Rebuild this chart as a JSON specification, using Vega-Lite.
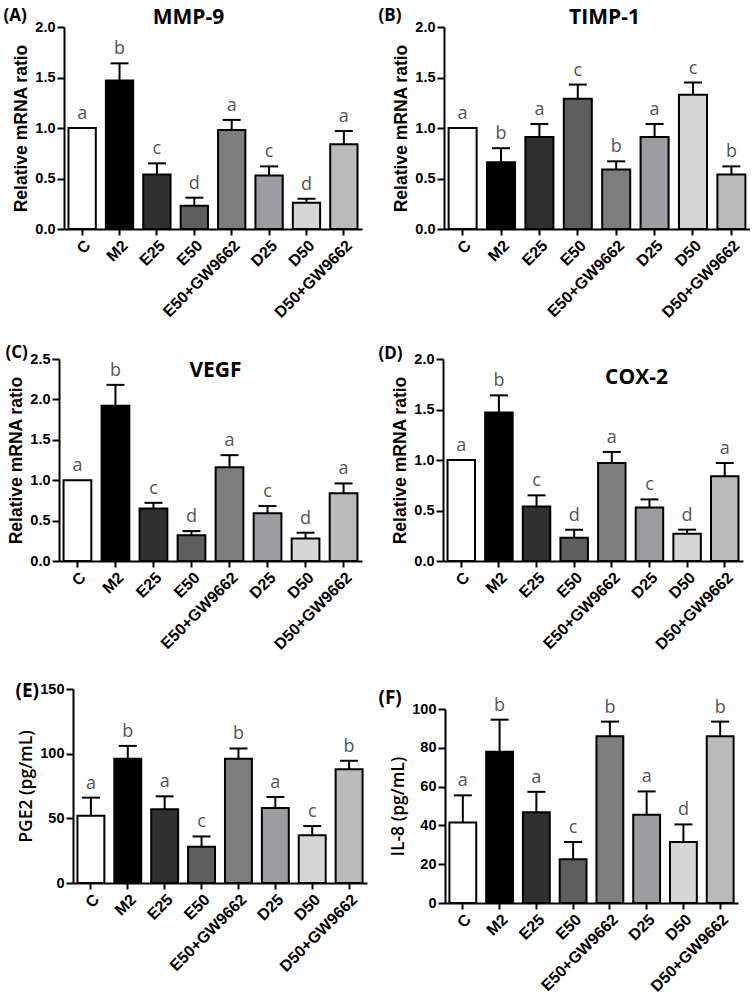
{
"$schema":"https://vega.github.io/schema/vega-lite/v6.json",
"background":"white",
"padding":{"left":3,"top":6,"right":0,"bottom":0},
"autosize":{"type":"pad"},
"bounds":"flush",
"columns":2,
"spacing":{"row":128,"column":76},
"config":{"view":{"stroke":null},"axis":{"grid":false}},
"datasets":{"d":[
{"panel":"A","group":"C","value":1.0,"hi":1.0,"letter":"a"},
{"panel":"A","group":"M2","value":1.47,"hi":1.64,"letter":"b"},
{"panel":"A","group":"E25","value":0.54,"hi":0.65,"letter":"c"},
{"panel":"A","group":"E50","value":0.23,"hi":0.31,"letter":"d"},
{"panel":"A","group":"E50+GW9662","value":0.98,"hi":1.08,"letter":"a"},
{"panel":"A","group":"D25","value":0.53,"hi":0.62,"letter":"c"},
{"panel":"A","group":"D50","value":0.26,"hi":0.30,"letter":"d"},
{"panel":"A","group":"D50+GW9662","value":0.84,"hi":0.97,"letter":"a"},
{"panel":"B","group":"C","value":1.0,"hi":1.0,"letter":"a"},
{"panel":"B","group":"M2","value":0.66,"hi":0.80,"letter":"b"},
{"panel":"B","group":"E25","value":0.91,"hi":1.04,"letter":"a"},
{"panel":"B","group":"E50","value":1.29,"hi":1.43,"letter":"c"},
{"panel":"B","group":"E50+GW9662","value":0.59,"hi":0.67,"letter":"b"},
{"panel":"B","group":"D25","value":0.91,"hi":1.04,"letter":"a"},
{"panel":"B","group":"D50","value":1.33,"hi":1.45,"letter":"c"},
{"panel":"B","group":"D50+GW9662","value":0.54,"hi":0.62,"letter":"b"},
{"panel":"C","group":"C","value":1.0,"hi":1.0,"letter":"a"},
{"panel":"C","group":"M2","value":1.92,"hi":2.18,"letter":"b"},
{"panel":"C","group":"E25","value":0.65,"hi":0.72,"letter":"c"},
{"panel":"C","group":"E50","value":0.32,"hi":0.37,"letter":"d"},
{"panel":"C","group":"E50+GW9662","value":1.16,"hi":1.31,"letter":"a"},
{"panel":"C","group":"D25","value":0.59,"hi":0.68,"letter":"c"},
{"panel":"C","group":"D50","value":0.28,"hi":0.35,"letter":"d"},
{"panel":"C","group":"D50+GW9662","value":0.84,"hi":0.96,"letter":"a"},
{"panel":"D","group":"C","value":1.0,"hi":1.0,"letter":"a"},
{"panel":"D","group":"M2","value":1.47,"hi":1.64,"letter":"b"},
{"panel":"D","group":"E25","value":0.54,"hi":0.65,"letter":"c"},
{"panel":"D","group":"E50","value":0.23,"hi":0.31,"letter":"d"},
{"panel":"D","group":"E50+GW9662","value":0.97,"hi":1.08,"letter":"a"},
{"panel":"D","group":"D25","value":0.53,"hi":0.61,"letter":"c"},
{"panel":"D","group":"D50","value":0.27,"hi":0.31,"letter":"d"},
{"panel":"D","group":"D50+GW9662","value":0.84,"hi":0.97,"letter":"a"},
{"panel":"E","group":"C","value":52,"hi":66,"letter":"a"},
{"panel":"E","group":"M2","value":96,"hi":106,"letter":"b"},
{"panel":"E","group":"E25","value":57,"hi":67,"letter":"a"},
{"panel":"E","group":"E50","value":28,"hi":36,"letter":"c"},
{"panel":"E","group":"E50+GW9662","value":96,"hi":104,"letter":"b"},
{"panel":"E","group":"D25","value":58,"hi":66.5,"letter":"a"},
{"panel":"E","group":"D50","value":37,"hi":44,"letter":"c"},
{"panel":"E","group":"D50+GW9662","value":88,"hi":94.5,"letter":"b"},
{"panel":"F","group":"C","value":41.5,"hi":55.5,"letter":"a"},
{"panel":"F","group":"M2","value":78,"hi":94.5,"letter":"b"},
{"panel":"F","group":"E25","value":46.8,"hi":57.3,"letter":"a"},
{"panel":"F","group":"E50","value":22.6,"hi":31.5,"letter":"c"},
{"panel":"F","group":"E50+GW9662","value":86,"hi":93.5,"letter":"b"},
{"panel":"F","group":"D25","value":45.5,"hi":57.5,"letter":"a"},
{"panel":"F","group":"D50","value":31.5,"hi":40.5,"letter":"d"},
{"panel":"F","group":"D50+GW9662","value":86,"hi":93.5,"letter":"b"}
]},
"data":{"name":"d"},
"concat":[
{"width":308,"height":202,"transform":[{"filter":"datum.panel === 'A'"}],
 "resolve":{"axis":{"x":"independent","y":"independent"}},
 "layer":[
  {"mark":{"type":"bar","stroke":"#000","strokeWidth":2},
   "encoding":{
    "x":{"field":"group","type":"nominal","sort":["C","M2","E25","E50","E50+GW9662","D25","D50","D50+GW9662"],"scale":{"range":[5,303],"paddingInner":0.27,"paddingOuter":0.12},
      "axis":{"orient":"bottom","title":null,"labelAngle":-45,"labelFont":"Liberation Sans","labelFontWeight":"bold","labelFontSize":16,"labelColor":"#000","domainColor":"#000","domainWidth":2,"tickColor":"#000","tickWidth":2,"tickSize":6,"labelPadding":2}},
    "y":{"field":"value","type":"quantitative","scale":{"domain":[0,2],"nice":false},
      "axis":{"orient":"left","offset":-5,"values":[0,0.5,1,1.5,2],"format":".1f","title":"Relative mRNA ratio","titleFont":"Liberation Sans","titleFontWeight":"bold","titleFontSize":17.5,"titleColor":"#000","labelFont":"Liberation Sans","labelFontWeight":"bold","labelFontSize":14.5,"labelColor":"#000","domainColor":"#000","domainWidth":2,"tickColor":"#000","tickWidth":2,"tickSize":7}},
    "color":{"field":"group","type":"nominal","scale":{"domain":["C","M2","E25","E50","E50+GW9662","D25","D50","D50+GW9662"],"range":["#ffffff","#000000","#303030","#5e5e5e","#7d7d7d","#9c9ca1","#d6d6d6","#bababa"]},"legend":null}}},
  {"transform":[{"filter":"datum.hi > datum.value"}],"mark":{"type":"rule","strokeWidth":2,"color":"#000"},
   "encoding":{
    "x":{"field":"group","type":"nominal","sort":["C","M2","E25","E50","E50+GW9662","D25","D50","D50+GW9662"],"axis":null},
    "y":{"field":"value","type":"quantitative","axis":{"orient":"right","domain":false,"ticks":false,"labels":false,"title":"MMP-9","titleAngle":0,"titleX":-179,"titleY":-10,"titleAlign":"center","titleBaseline":"middle","titleFont":"Open Sans","titleFontWeight":"bold","titleFontSize":21,"titleColor":"#000"}},
    "y2":{"field":"hi"}}},
  {"transform":[{"filter":"datum.hi > datum.value"}],"mark":{"type":"tick","thickness":2,"size":18,"color":"#000","opacity":1},
   "encoding":{
    "x":{"field":"group","type":"nominal","sort":["C","M2","E25","E50","E50+GW9662","D25","D50","D50+GW9662"],"axis":{"orient":"top","domain":false,"ticks":false,"labels":false,"title":"(A)","titleX":-56,"titleY":-12,"titleAlign":"left","titleBaseline":"middle","titleAngle":0,"titleFont":"Open Sans","titleFontWeight":"bold","titleFontSize":17,"titleColor":"#000"}},
    "y":{"field":"hi","type":"quantitative","axis":null}}},
  {"mark":{"type":"text","baseline":"alphabetic","dy":-9,"font":"Open Sans","fontSize":18,"color":"#555555"},
   "encoding":{
    "x":{"field":"group","type":"nominal","sort":["C","M2","E25","E50","E50+GW9662","D25","D50","D50+GW9662"],"axis":null},
    "y":{"field":"hi","type":"quantitative","axis":null},
    "text":{"field":"letter"}}}
 ]},
{"width":307,"height":202,"transform":[{"filter":"datum.panel === 'B'"}],
 "resolve":{"axis":{"x":"independent","y":"independent"}},
 "layer":[
  {"mark":{"type":"bar","stroke":"#000","strokeWidth":2},
   "encoding":{
    "x":{"field":"group","type":"nominal","sort":["C","M2","E25","E50","E50+GW9662","D25","D50","D50+GW9662"],"scale":{"range":[1,307],"paddingInner":0.27,"paddingOuter":0.12},
      "axis":{"orient":"bottom","title":null,"labelAngle":-45,"labelFont":"Liberation Sans","labelFontWeight":"bold","labelFontSize":16,"labelColor":"#000","domainColor":"#000","domainWidth":2,"tickColor":"#000","tickWidth":2,"tickSize":6,"labelPadding":2}},
    "y":{"field":"value","type":"quantitative","scale":{"domain":[0,2],"nice":false},
      "axis":{"orient":"left","offset":-1,"values":[0,0.5,1,1.5,2],"format":".1f","title":"Relative mRNA ratio","titleFont":"Liberation Sans","titleFontWeight":"bold","titleFontSize":17.5,"titleColor":"#000","labelFont":"Liberation Sans","labelFontWeight":"bold","labelFontSize":14.5,"labelColor":"#000","domainColor":"#000","domainWidth":2,"tickColor":"#000","tickWidth":2,"tickSize":7}},
    "color":{"field":"group","type":"nominal","scale":{"domain":["C","M2","E25","E50","E50+GW9662","D25","D50","D50+GW9662"],"range":["#ffffff","#000000","#303030","#5e5e5e","#7d7d7d","#9c9ca1","#d6d6d6","#bababa"]},"legend":null}}},
  {"transform":[{"filter":"datum.hi > datum.value"}],"mark":{"type":"rule","strokeWidth":2,"color":"#000"},
   "encoding":{
    "x":{"field":"group","type":"nominal","sort":["C","M2","E25","E50","E50+GW9662","D25","D50","D50+GW9662"],"axis":null},
    "y":{"field":"value","type":"quantitative","axis":{"orient":"right","domain":false,"ticks":false,"labels":false,"title":"TIMP-1","titleAngle":0,"titleX":-146,"titleY":-10,"titleAlign":"center","titleBaseline":"middle","titleFont":"Open Sans","titleFontWeight":"bold","titleFontSize":21,"titleColor":"#000"}},
    "y2":{"field":"hi"}}},
  {"transform":[{"filter":"datum.hi > datum.value"}],"mark":{"type":"tick","thickness":2,"size":18,"color":"#000","opacity":1},
   "encoding":{
    "x":{"field":"group","type":"nominal","sort":["C","M2","E25","E50","E50+GW9662","D25","D50","D50+GW9662"],"axis":{"orient":"top","domain":false,"ticks":false,"labels":false,"title":"(B)","titleX":-65,"titleY":-12,"titleAlign":"left","titleBaseline":"middle","titleAngle":0,"titleFont":"Open Sans","titleFontWeight":"bold","titleFontSize":17,"titleColor":"#000"}},
    "y":{"field":"hi","type":"quantitative","axis":null}}},
  {"mark":{"type":"text","baseline":"alphabetic","dy":-9,"font":"Open Sans","fontSize":18,"color":"#555555"},
   "encoding":{
    "x":{"field":"group","type":"nominal","sort":["C","M2","E25","E50","E50+GW9662","D25","D50","D50+GW9662"],"axis":null},
    "y":{"field":"hi","type":"quantitative","axis":null},
    "text":{"field":"letter"}}}
 ]},
{"width":308,"height":204,"transform":[{"filter":"datum.panel === 'C'"}],
 "resolve":{"axis":{"x":"independent","y":"independent"}},
 "layer":[
  {"mark":{"type":"bar","stroke":"#000","strokeWidth":2},
   "encoding":{
    "x":{"field":"group","type":"nominal","sort":["C","M2","E25","E50","E50+GW9662","D25","D50","D50+GW9662"],"scale":{"range":[0,303],"paddingInner":0.27,"paddingOuter":0.12},
      "axis":{"orient":"bottom","title":null,"labelAngle":-45,"labelFont":"Liberation Sans","labelFontWeight":"bold","labelFontSize":16,"labelColor":"#000","domainColor":"#000","domainWidth":2,"tickColor":"#000","tickWidth":2,"tickSize":6,"labelPadding":2}},
    "y":{"field":"value","type":"quantitative","scale":{"domain":[0,2.5],"nice":false,"range":[204,2]},
      "axis":{"orient":"left","values":[0,0.5,1,1.5,2,2.5],"format":".1f","title":"Relative mRNA ratio","titleFont":"Liberation Sans","titleFontWeight":"bold","titleFontSize":17.5,"titleColor":"#000","labelFont":"Liberation Sans","labelFontWeight":"bold","labelFontSize":14.5,"labelColor":"#000","domainColor":"#000","domainWidth":2,"tickColor":"#000","tickWidth":2,"tickSize":7}},
    "color":{"field":"group","type":"nominal","scale":{"domain":["C","M2","E25","E50","E50+GW9662","D25","D50","D50+GW9662"],"range":["#ffffff","#000000","#303030","#5e5e5e","#7d7d7d","#9c9ca1","#d6d6d6","#bababa"]},"legend":null}}},
  {"transform":[{"filter":"datum.hi > datum.value"}],"mark":{"type":"rule","strokeWidth":2,"color":"#000"},
   "encoding":{
    "x":{"field":"group","type":"nominal","sort":["C","M2","E25","E50","E50+GW9662","D25","D50","D50+GW9662"],"axis":null},
    "y":{"field":"value","type":"quantitative","axis":{"orient":"right","domain":false,"ticks":false,"labels":false,"title":"VEGF","titleAngle":0,"titleX":-152,"titleY":13,"titleAlign":"center","titleBaseline":"middle","titleFont":"Open Sans","titleFontWeight":"bold","titleFontSize":21,"titleColor":"#000"}},
    "y2":{"field":"hi"}}},
  {"transform":[{"filter":"datum.hi > datum.value"}],"mark":{"type":"tick","thickness":2,"size":18,"color":"#000","opacity":1},
   "encoding":{
    "x":{"field":"group","type":"nominal","sort":["C","M2","E25","E50","E50+GW9662","D25","D50","D50+GW9662"],"axis":{"orient":"top","domain":false,"ticks":false,"labels":false,"title":"(C)","titleX":-54,"titleY":-5,"titleAlign":"left","titleBaseline":"middle","titleAngle":0,"titleFont":"Open Sans","titleFontWeight":"bold","titleFontSize":17,"titleColor":"#000"}},
    "y":{"field":"hi","type":"quantitative","axis":null}}},
  {"mark":{"type":"text","baseline":"alphabetic","dy":-9,"font":"Open Sans","fontSize":18,"color":"#555555"},
   "encoding":{
    "x":{"field":"group","type":"nominal","sort":["C","M2","E25","E50","E50+GW9662","D25","D50","D50+GW9662"],"axis":null},
    "y":{"field":"hi","type":"quantitative","axis":null},
    "text":{"field":"letter"}}}
 ]},
{"width":307,"height":204,"transform":[{"filter":"datum.panel === 'D'"}],
 "resolve":{"axis":{"x":"independent","y":"independent"}},
 "layer":[
  {"mark":{"type":"bar","stroke":"#000","strokeWidth":2},
   "encoding":{
    "x":{"field":"group","type":"nominal","sort":["C","M2","E25","E50","E50+GW9662","D25","D50","D50+GW9662"],"scale":{"range":[0,300],"paddingInner":0.27,"paddingOuter":0.12},
      "axis":{"orient":"bottom","title":null,"labelAngle":-45,"labelFont":"Liberation Sans","labelFontWeight":"bold","labelFontSize":16,"labelColor":"#000","domainColor":"#000","domainWidth":2,"tickColor":"#000","tickWidth":2,"tickSize":6,"labelPadding":2}},
    "y":{"field":"value","type":"quantitative","scale":{"domain":[0,2],"nice":false,"range":[204,2]},
      "axis":{"orient":"left","values":[0,0.5,1,1.5,2],"format":".1f","title":"Relative mRNA ratio","titleFont":"Liberation Sans","titleFontWeight":"bold","titleFontSize":17.5,"titleColor":"#000","labelFont":"Liberation Sans","labelFontWeight":"bold","labelFontSize":14.5,"labelColor":"#000","domainColor":"#000","domainWidth":2,"tickColor":"#000","tickWidth":2,"tickSize":7}},
    "color":{"field":"group","type":"nominal","scale":{"domain":["C","M2","E25","E50","E50+GW9662","D25","D50","D50+GW9662"],"range":["#ffffff","#000000","#303030","#5e5e5e","#7d7d7d","#9c9ca1","#d6d6d6","#bababa"]},"legend":null}}},
  {"transform":[{"filter":"datum.hi > datum.value"}],"mark":{"type":"rule","strokeWidth":2,"color":"#000"},
   "encoding":{
    "x":{"field":"group","type":"nominal","sort":["C","M2","E25","E50","E50+GW9662","D25","D50","D50+GW9662"],"axis":null},
    "y":{"field":"value","type":"quantitative","axis":{"orient":"right","domain":false,"ticks":false,"labels":false,"title":"COX-2","titleAngle":0,"titleX":-114,"titleY":20,"titleAlign":"center","titleBaseline":"middle","titleFont":"Open Sans","titleFontWeight":"bold","titleFontSize":21,"titleColor":"#000"}},
    "y2":{"field":"hi"}}},
  {"transform":[{"filter":"datum.hi > datum.value"}],"mark":{"type":"tick","thickness":2,"size":18,"color":"#000","opacity":1},
   "encoding":{
    "x":{"field":"group","type":"nominal","sort":["C","M2","E25","E50","E50+GW9662","D25","D50","D50+GW9662"],"axis":{"orient":"top","domain":false,"ticks":false,"labels":false,"title":"(D)","titleX":-65,"titleY":-4,"titleAlign":"left","titleBaseline":"middle","titleAngle":0,"titleFont":"Open Sans","titleFontWeight":"bold","titleFontSize":17,"titleColor":"#000"}},
    "y":{"field":"hi","type":"quantitative","axis":null}}},
  {"mark":{"type":"text","baseline":"alphabetic","dy":-9,"font":"Open Sans","fontSize":18,"color":"#555555"},
   "encoding":{
    "x":{"field":"group","type":"nominal","sort":["C","M2","E25","E50","E50+GW9662","D25","D50","D50+GW9662"],"axis":null},
    "y":{"field":"hi","type":"quantitative","axis":null},
    "text":{"field":"letter"}}}
 ]},
{"width":308,"height":194,"transform":[{"filter":"datum.panel === 'E'"}],
 "resolve":{"axis":{"x":"independent","y":"independent"}},
 "layer":[
  {"mark":{"type":"bar","stroke":"#000","strokeWidth":2},
   "encoding":{
    "x":{"field":"group","type":"nominal","sort":["C","M2","E25","E50","E50+GW9662","D25","D50","D50+GW9662"],"scale":{"range":[14,308],"paddingInner":0.27,"paddingOuter":0.12},
      "axis":{"orient":"bottom","title":null,"labelAngle":-45,"labelFont":"Liberation Sans","labelFontWeight":"bold","labelFontSize":16,"labelColor":"#000","domainColor":"#000","domainWidth":2,"tickColor":"#000","tickWidth":2,"tickSize":6,"labelPadding":2}},
    "y":{"field":"value","type":"quantitative","scale":{"domain":[0,150],"nice":false},
      "axis":{"orient":"left","offset":-14,"values":[0,50,100,150],"title":"PGE2  (pg/mL)","titleFont":"Open Sans","titleFontWeight":600,"titleFontSize":17.5,"titleColor":"#000","labelFont":"Liberation Sans","labelFontWeight":"bold","labelFontSize":14.5,"labelColor":"#000","domainColor":"#000","domainWidth":2,"tickColor":"#000","tickWidth":2,"tickSize":7}},
    "color":{"field":"group","type":"nominal","scale":{"domain":["C","M2","E25","E50","E50+GW9662","D25","D50","D50+GW9662"],"range":["#ffffff","#000000","#303030","#5e5e5e","#7d7d7d","#9c9ca1","#bdbdbd","#d6d6d6"]},"legend":null}}},
  {"transform":[{"filter":"datum.hi > datum.value"}],"mark":{"type":"rule","strokeWidth":2,"color":"#000"},
   "encoding":{
    "x":{"field":"group","type":"nominal","sort":["C","M2","E25","E50","E50+GW9662","D25","D50","D50+GW9662"],"axis":null},
    "y":{"field":"value","type":"quantitative","axis":null},
    "y2":{"field":"hi"}}},
  {"transform":[{"filter":"datum.hi > datum.value"}],"mark":{"type":"tick","thickness":2,"size":18,"color":"#000","opacity":1},
   "encoding":{
    "x":{"field":"group","type":"nominal","sort":["C","M2","E25","E50","E50+GW9662","D25","D50","D50+GW9662"],"axis":{"orient":"top","domain":false,"ticks":false,"labels":false,"title":"(E)","titleX":-44,"titleY":1,"titleAlign":"left","titleBaseline":"middle","titleAngle":0,"titleFont":"Open Sans","titleFontWeight":"bold","titleFontSize":19,"titleColor":"#000"}},
    "y":{"field":"hi","type":"quantitative","axis":null}}},
  {"mark":{"type":"text","baseline":"alphabetic","dy":-9,"font":"Open Sans","fontSize":18,"color":"#555555"},
   "encoding":{
    "x":{"field":"group","type":"nominal","sort":["C","M2","E25","E50","E50+GW9662","D25","D50","D50+GW9662"],"axis":null},
    "y":{"field":"hi","type":"quantitative","axis":null},
    "text":{"field":"letter"}}}
 ]},
{"width":307,"height":214,"transform":[{"filter":"datum.panel === 'F'"}],
 "resolve":{"axis":{"x":"independent","y":"independent"}},
 "layer":[
  {"mark":{"type":"bar","stroke":"#000","strokeWidth":2},
   "encoding":{
    "x":{"field":"group","type":"nominal","sort":["C","M2","E25","E50","E50+GW9662","D25","D50","D50+GW9662"],"scale":{"range":[2,295],"paddingInner":0.27,"paddingOuter":0.12},
      "axis":{"orient":"bottom","title":null,"labelAngle":-45,"labelFont":"Liberation Sans","labelFontWeight":"bold","labelFontSize":16,"labelColor":"#000","domainColor":"#000","domainWidth":2,"tickColor":"#000","tickWidth":2,"tickSize":6,"labelPadding":2}},
    "y":{"field":"value","type":"quantitative","scale":{"domain":[0,100],"nice":false,"range":[214,20]},
      "axis":{"orient":"left","offset":-2,"values":[0,20,40,60,80,100],"title":"IL-8 (pg/mL)","titleFont":"Open Sans","titleFontWeight":600,"titleFontSize":17.5,"titleColor":"#000","labelFont":"Liberation Sans","labelFontWeight":"bold","labelFontSize":14.5,"labelColor":"#000","domainColor":"#000","domainWidth":2,"tickColor":"#000","tickWidth":2,"tickSize":7}},
    "color":{"field":"group","type":"nominal","scale":{"domain":["C","M2","E25","E50","E50+GW9662","D25","D50","D50+GW9662"],"range":["#ffffff","#000000","#303030","#5e5e5e","#7d7d7d","#9c9ca1","#bfbfbf","#d8d8d8"]},"legend":null}}},
  {"transform":[{"filter":"datum.hi > datum.value"}],"mark":{"type":"rule","strokeWidth":2,"color":"#000"},
   "encoding":{
    "x":{"field":"group","type":"nominal","sort":["C","M2","E25","E50","E50+GW9662","D25","D50","D50+GW9662"],"axis":null},
    "y":{"field":"value","type":"quantitative","axis":null},
    "y2":{"field":"hi"}}},
  {"transform":[{"filter":"datum.hi > datum.value"}],"mark":{"type":"tick","thickness":2,"size":18,"color":"#000","opacity":1},
   "encoding":{
    "x":{"field":"group","type":"nominal","sort":["C","M2","E25","E50","E50+GW9662","D25","D50","D50+GW9662"],"axis":{"orient":"top","domain":false,"ticks":false,"labels":false,"title":"(F)","titleX":-65,"titleY":8,"titleAlign":"left","titleBaseline":"middle","titleAngle":0,"titleFont":"Open Sans","titleFontWeight":"bold","titleFontSize":19,"titleColor":"#000"}},
    "y":{"field":"hi","type":"quantitative","axis":null}}},
  {"mark":{"type":"text","baseline":"alphabetic","dy":-9,"font":"Open Sans","fontSize":18,"color":"#555555"},
   "encoding":{
    "x":{"field":"group","type":"nominal","sort":["C","M2","E25","E50","E50+GW9662","D25","D50","D50+GW9662"],"axis":null},
    "y":{"field":"hi","type":"quantitative","axis":null},
    "text":{"field":"letter"}}}
 ]}
]
}
